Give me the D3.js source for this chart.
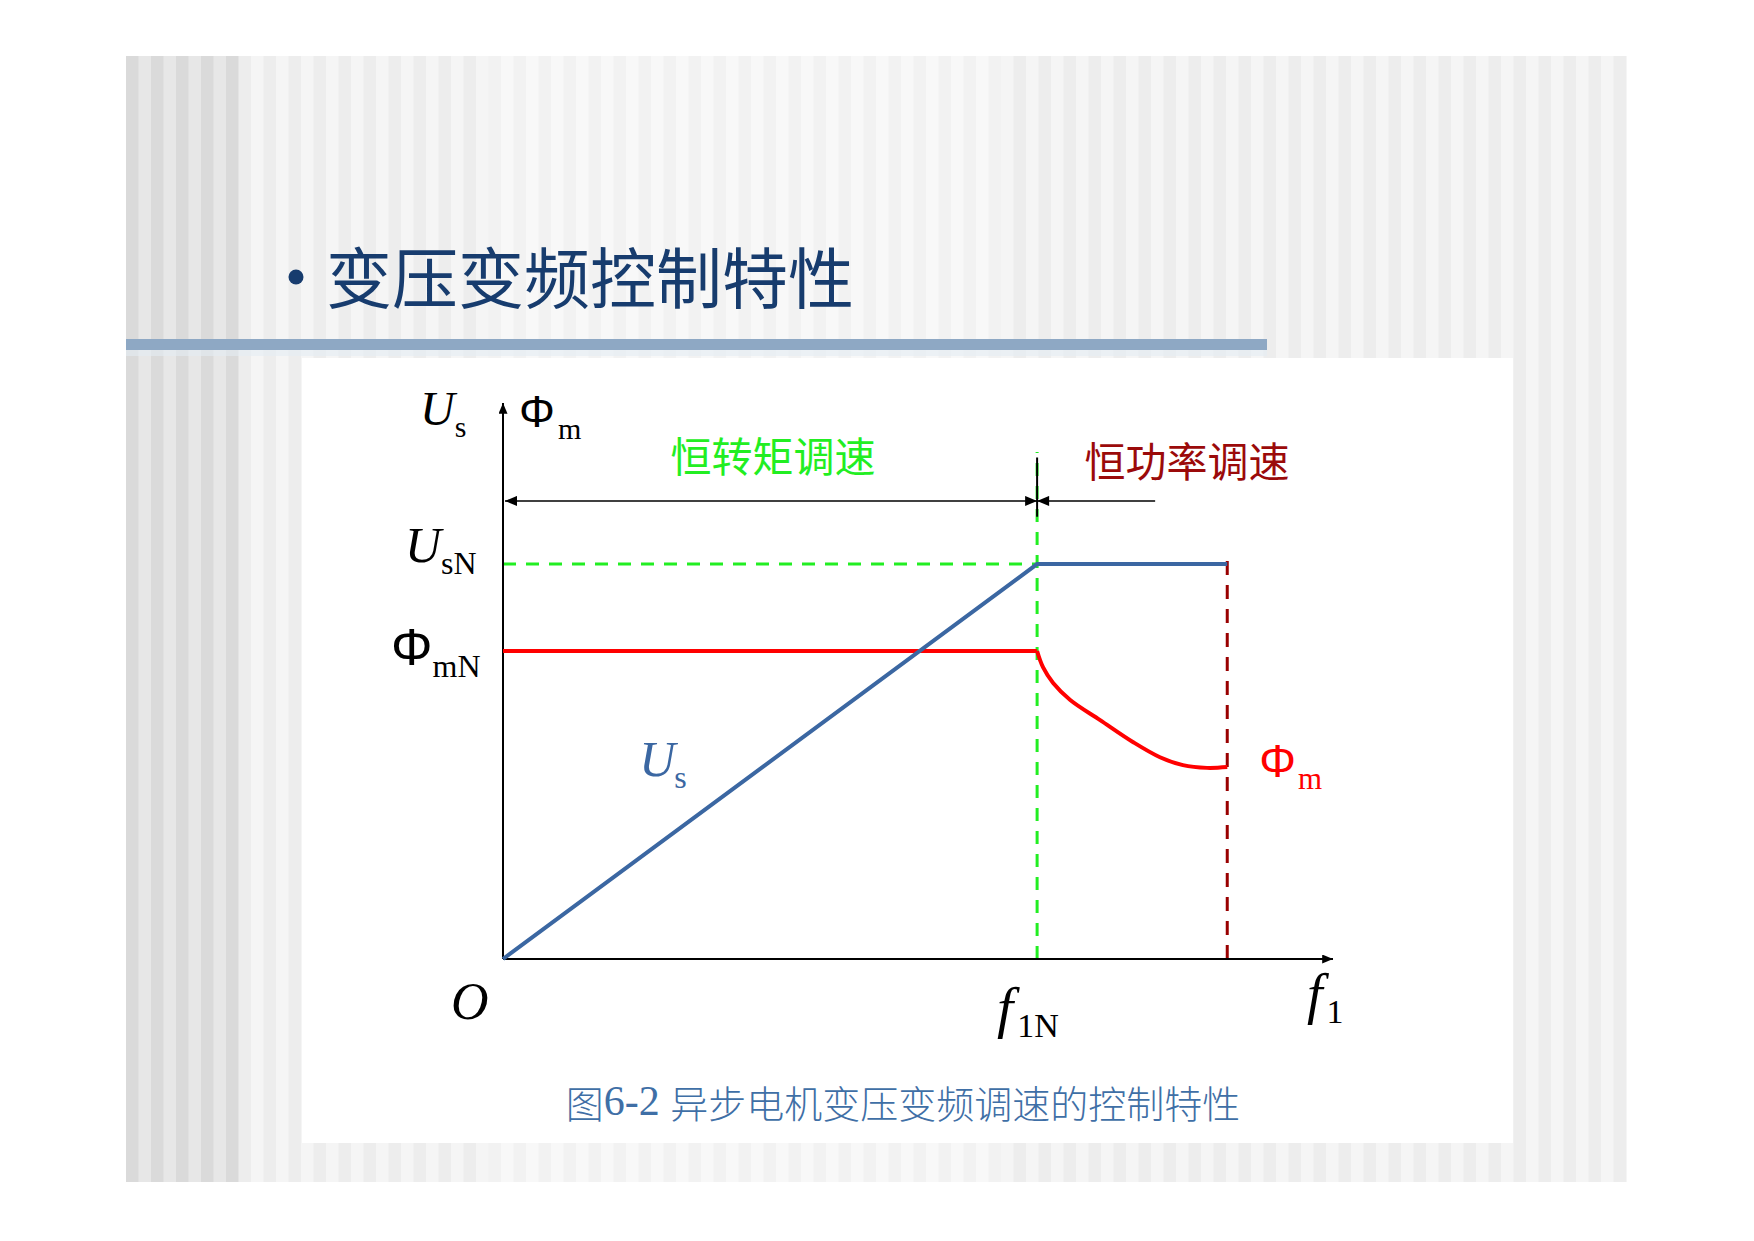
<!DOCTYPE html>
<html>
<head>
<meta charset="utf-8">
<script src="https://cdn.jsdelivr.net/npm/d3@7"></script>
<style>
  html, body { margin: 0; padding: 0; background: #ffffff; }
  svg { display: block; }
</style>
</head>
<body>
<svg id="chart" width="1754" height="1241"></svg>
<script>
// ---------------- DATA ----------------
// frequency positions (relative to f1N = 1)
const freqMarks = [0, 1.0, 1.356];          // O, f1N, f1max
const freqAxisMax = 1.554;
const yAxisMax = 1.408;
// Us (stator voltage) vs f1
const usFreq = [0, 1.0, 1.356];
const usVal  = [0, 1.0, 1.0];
// Phi_m (air-gap flux) vs f1 : constant part then falling part
const phiFlatFreq = [0, 1.0];
const phiFlatVal  = [0.78, 0.78];
const phiFallFreq = [1.0, 1.011, 1.030, 1.062, 1.118, 1.180, 1.230, 1.273, 1.318, 1.356];
const phiFallVal  = [0.78, 0.739, 0.699, 0.656, 0.605, 0.549, 0.511, 0.491, 0.484, 0.486];
// reference levels
const usN = 1.0;
const phiMN = 0.78;
const rangeArrowLevel = 1.16;
const rangeTick = [1.12, 1.27];
const powerRangeEnd = 1.221;
const greenDashTop = 1.284;
const redDashTop = 1.03;
// texts
const titleText = "变压变频控制特性";
const regionLabels = ["恒转矩调速", "恒功率调速"];
const captionParts = ["图", "6-2 ", "异步电机变压变频调速的控制特性"];

// ---------------- LAYOUT ----------------
const svg = d3.select("#chart");
const slide = {x0: 126, x1: 1627, y0: 56, y1: 1182};
const panel = {x0: 302, x1: 1513, y0: 358, y1: 1143};

// background stripes
const bg = svg.append("g");
const stripeW = 12.5;
const stripes = d3.range(slide.x0, slide.x1, stripeW);
bg.selectAll("rect.stripe").data(stripes).join("rect")
  .attr("x", d => d).attr("y", slide.y0)
  .attr("width", d => Math.min(stripeW + 0.5, slide.x1 - d)).attr("height", slide.y1 - slide.y0)
  .attr("fill", (d, i) => {
    const even = i % 2 === 0;
    if (d < 238) return even ? "#dadada" : "#e7e7e7";
    if (d > 480 && d < 1000) return even ? "#f8f8f8" : "#f2f2f2";
    return even ? "#f5f5f5" : "#ededed";
  });

// header bar
svg.append("rect").attr("x", slide.x0).attr("y", 339).attr("width", 1267 - slide.x0).attr("height", 11)
  .attr("fill", "#8ea8c4");
svg.append("rect").attr("x", slide.x0).attr("y", 350).attr("width", 1267 - slide.x0).attr("height", 6)
  .attr("fill", "#e4ecf4").attr("opacity", 0.6);

// white panel
svg.append("rect").attr("x", panel.x0).attr("y", panel.y0)
  .attr("width", panel.x1 - panel.x0).attr("height", panel.y1 - panel.y0).attr("fill", "#ffffff");

// title
svg.append("circle").attr("cx", 296).attr("cy", 277).attr("r", 7.5).attr("fill", "#173c6e");
svg.append("text").attr("x", 326).attr("y", 274)
  .attr("dominant-baseline", "central")
  .attr("font-family", "'Noto Sans CJK SC'").attr("font-size", 66).attr("font-weight", 400)
  .attr("fill", "#173c6e").text(titleText);

// ---------------- SCALES ----------------
const x = d3.scaleLinear().domain([0, freqAxisMax]).range([503, 1333]);
const y = d3.scaleLinear().domain([0, yAxisMax]).range([959, 403]);

// markers
const defs = svg.append("defs");
defs.append("marker").attr("id", "arrowAxis")
  .attr("viewBox", "0 0 12 10").attr("refX", 12).attr("refY", 5)
  .attr("markerWidth", 13).attr("markerHeight", 9).attr("markerUnits", "userSpaceOnUse")
  .attr("orient", "auto")
  .append("path").attr("d", "M0,0 L12,5 L0,10 Z").attr("fill", "#000");
defs.append("marker").attr("id", "arrowDim")
  .attr("viewBox", "0 0 12 10").attr("refX", 12).attr("refY", 5)
  .attr("markerWidth", 13).attr("markerHeight", 10).attr("markerUnits", "userSpaceOnUse")
  .attr("orient", "auto-start-reverse")
  .append("path").attr("d", "M0,0 L12,5 L0,10 Z").attr("fill", "#000");

const g = svg.append("g");

// green dashed reference lines (UsN level and f1N)
g.append("line")
  .attr("x1", x(0)).attr("x2", x(freqMarks[1])).attr("y1", y(usN)).attr("y2", y(usN))
  .attr("stroke", "#22ee22").attr("stroke-width", 3).attr("stroke-dasharray", "13,10");
g.append("line")
  .attr("x1", x(freqMarks[1])).attr("x2", x(freqMarks[1])).attr("y1", y(0)).attr("y2", y(greenDashTop))
  .attr("stroke", "#22ee22").attr("stroke-width", 3).attr("stroke-dasharray", "13,10");
// dark red dashed at f1max
g.append("line")
  .attr("x1", x(freqMarks[2])).attr("x2", x(freqMarks[2])).attr("y1", y(0)).attr("y2", y(redDashTop))
  .attr("stroke", "#990000").attr("stroke-width", 3).attr("stroke-dasharray", "14,10");

// axes
g.append("line").attr("x1", x(0)).attr("x2", x(freqAxisMax)).attr("y1", y(0)).attr("y2", y(0))
  .attr("stroke", "#000").attr("stroke-width", 2).attr("marker-end", "url(#arrowAxis)");
g.append("line").attr("x1", x(0)).attr("x2", x(0)).attr("y1", y(0)).attr("y2", y(yAxisMax))
  .attr("stroke", "#000").attr("stroke-width", 2).attr("marker-end", "url(#arrowAxis)");

// range dimension arrows
g.append("line")
  .attr("x1", x(0) + 2).attr("x2", x(freqMarks[1])).attr("y1", y(rangeArrowLevel)).attr("y2", y(rangeArrowLevel))
  .attr("stroke", "#000").attr("stroke-width", 1.5)
  .attr("marker-start", "url(#arrowDim)").attr("marker-end", "url(#arrowDim)");
g.append("line")
  .attr("x1", x(freqMarks[1])).attr("x2", x(powerRangeEnd)).attr("y1", y(rangeArrowLevel)).attr("y2", y(rangeArrowLevel))
  .attr("stroke", "#000").attr("stroke-width", 1.5)
  .attr("marker-start", "url(#arrowDim)");
g.append("line")
  .attr("x1", x(freqMarks[1])).attr("x2", x(freqMarks[1])).attr("y1", y(rangeTick[0])).attr("y2", y(rangeTick[1]))
  .attr("stroke", "#000").attr("stroke-width", 2);

// Phi_m curve
const lineGen = d3.line().x(d => x(d[0])).y(d => y(d[1]));
g.append("path").datum(d3.zip(phiFlatFreq, phiFlatVal))
  .attr("d", lineGen).attr("fill", "none").attr("stroke", "#ff0000").attr("stroke-width", 4);
g.append("path").datum(d3.zip(phiFallFreq, phiFallVal))
  .attr("d", d3.line().x(d => x(d[0])).y(d => y(d[1])).curve(d3.curveCatmullRom.alpha(0.5)))
  .attr("fill", "none").attr("stroke", "#ff0000").attr("stroke-width", 4).attr("stroke-linecap", "butt");

// Us line
g.append("path").datum(d3.zip(usFreq, usVal))
  .attr("d", lineGen)
  .attr("fill", "none").attr("stroke", "#3b67a2").attr("stroke-width", 4).attr("stroke-linejoin", "miter");

// ---------------- LABELS ----------------
const serif = "'Liberation Serif'";
const sans = "'Liberation Sans'";
function subLabel(px, py, main, sub, opts) {
  const t = g.append("text").attr("x", px).attr("y", py).attr("fill", opts.color || "#000");
  t.append("tspan").attr("font-family", opts.mainFont).attr("font-style", opts.italic ? "italic" : "normal")
    .attr("font-size", opts.mainSize).text(main);
  t.append("tspan").attr("font-family", serif).attr("font-size", opts.subSize)
    .attr("dx", opts.dx || 0).attr("dy", opts.subDy).text(sub);
  return t;
}
// y-axis labels
subLabel(x(0) - 83, y(yAxisMax) + 22, "U", "s", {mainFont: serif, italic: true, mainSize: 48, subSize: 30, subDy: 12, dx: 0});
subLabel(x(0) + 16, y(yAxisMax) + 24, "Φ", "m", {mainFont: sans, mainSize: 45, subSize: 30, subDy: 12, dx: 3});
subLabel(x(0) - 98, y(usN) - 2, "U", "sN", {mainFont: serif, italic: true, mainSize: 50, subSize: 32, subDy: 12, dx: 0});
subLabel(x(0) - 112, y(phiMN) + 14, "Φ", "mN", {mainFont: sans, mainSize: 52, subSize: 32, subDy: 12, dx: 0});
// curve labels
subLabel(x(0.255), y(0.52) + 22, "U", "s", {mainFont: serif, italic: true, mainSize: 50, subSize: 32, subDy: 12, dx: -1, color: "#3b67a2"});
subLabel(x(freqMarks[2]) + 32, y(phiFallVal[phiFallVal.length - 1]) + 10, "Φ", "m", {mainFont: sans, mainSize: 46, subSize: 31, subDy: 12, dx: 2, color: "#ff0000"});
// x-axis labels
g.append("text").attr("x", x(0) - 52).attr("y", y(0) + 60)
  .attr("font-family", serif).attr("font-style", "italic").attr("font-size", 52).text("O");
subLabel(x(freqMarks[1]) - 40, y(0) + 68, "f", "1N", {mainFont: serif, italic: true, mainSize: 58, subSize: 34, subDy: 10, dx: 4});
subLabel(x(freqAxisMax) - 26, y(0) + 54, "f", "1", {mainFont: serif, italic: true, mainSize: 56, subSize: 34, subDy: 10, dx: 4});

// region labels
g.append("text").attr("x", (x(0) + x(freqMarks[1])) / 2 + 3).attr("y", 454)
  .attr("text-anchor", "middle").attr("dominant-baseline", "central")
  .attr("font-family", "'Noto Sans CJK SC'").attr("font-size", 41)
  .attr("fill", "#22ee22").text(regionLabels[0]);
g.append("text").attr("x", 1187).attr("y", 459)
  .attr("text-anchor", "middle").attr("dominant-baseline", "central")
  .attr("font-family", "'Noto Sans CJK SC'").attr("font-size", 41)
  .attr("fill", "#9b0a0a").text(regionLabels[1]);

// caption
const cap = svg.append("text").attr("x", 903).attr("y", 1101)
  .attr("text-anchor", "middle").attr("dominant-baseline", "central")
  .attr("font-size", 38).attr("fill", "#3f6fa6");
cap.append("tspan").attr("font-family", "'Noto Sans CJK SC'").attr("font-weight", 300).text(captionParts[0]);
cap.append("tspan").attr("font-family", "'Liberation Serif'").attr("font-size", 42).text(captionParts[1]);
cap.append("tspan").attr("font-family", "'Noto Sans CJK SC'").attr("font-weight", 300).text(captionParts[2]);
</script>
</body>
</html>
